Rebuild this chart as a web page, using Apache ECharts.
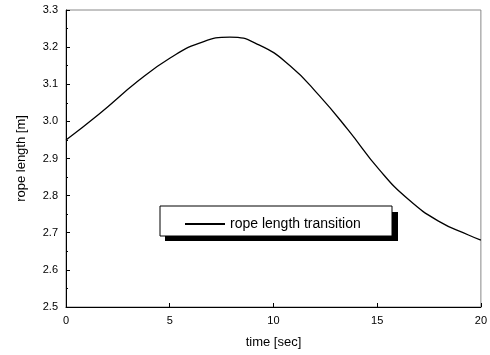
<!DOCTYPE html>
<html><head><meta charset="utf-8">
<script src="https://cdn.jsdelivr.net/npm/echarts@6/dist/echarts.min.js"></script>
<style>html,body{margin:0;padding:0;background:#fff}#c{width:490px;height:355px}</style>
</head><body><div id="c"></div>
<script>
const timeValues = [0, 1.6, 3.5, 5, 6.4, 7.9, 9.3, 10.8, 12.2, 13.6, 15.1, 16.5, 18, 19.4, 20];
const ropeLength = [2.95, 3.02, 3.11, 3.17, 3.21, 3.227, 3.206, 3.15, 3.07, 2.977, 2.87, 2.79, 2.73, 2.694, 2.68];
const xTicks = [0, 5, 10, 15, 20];
const yTicks = [2.5, 2.6, 2.7, 2.8, 2.9, 3.0, 3.1, 3.2, 3.3];
const seriesName = 'rope length transition';

const chart = echarts.init(document.getElementById('c'));
const font = 'Liberation Sans';
chart.setOption({
  animation: false,
  grid: {left: 66, right: 8, top: 10, bottom: 48, show: true, borderColor: '#888', borderWidth: 1},
  graphic: [
    {type: 'rect', z: 100, shape: {x: 165, y: 212, width: 233, height: 29}, style: {fill: '#000'}},
    {type: 'rect', z: 101, shape: {x: 160, y: 206, width: 232, height: 30}, style: {fill: '#fff', stroke: '#000', lineWidth: 1}}
  ],
  legend: {
    data: [seriesName], left: 180, top: 212, z: 110,
    itemWidth: 40, itemHeight: 2, itemGap: 0, icon: 'rect',
    textStyle: {fontFamily: font, fontSize: 14, color: '#000'}
  },
  xAxis: {
    type: 'value', min: 0, max: 20, interval: 5,
    name: 'time [sec]', nameLocation: 'middle', nameGap: 29,
    nameTextStyle: {fontFamily: font, fontSize: 13, color: '#000'},
    axisLine: {lineStyle: {color: '#000'}},
    axisTick: {inside: true, length: 4, lineStyle: {color: '#000'}},
    axisLabel: {fontFamily: font, fontSize: 11, color: '#000', formatter: v => xTicks.includes(v) ? String(v) : ''},
    splitLine: {show: false}
  },
  yAxis: {
    type: 'value', min: 2.5, max: 3.3, interval: 0.1,
    name: 'rope length [m]', nameLocation: 'middle', nameGap: 38,
    nameTextStyle: {fontFamily: font, fontSize: 13, color: '#000'},
    axisLine: {show: true, lineStyle: {color: '#000'}},
    axisTick: {show: true, inside: true, length: 4, lineStyle: {color: '#000'}},
    minorTick: {show: true, splitNumber: 2, length: 2, lineStyle: {color: '#000'}},
    axisLabel: {fontFamily: font, fontSize: 11, color: '#000', formatter: v => {
      const r = Math.round(v * 10) / 10; return yTicks.some(t => Math.abs(t - r) < 1e-6) ? r.toFixed(1) : ''; }},
    splitLine: {show: false}
  },
  series: [{
    name: seriesName, type: 'line', smooth: true, symbol: 'none',
    data: timeValues.map((t, i) => [t, ropeLength[i]]),
    lineStyle: {color: '#000', width: 1.3}, itemStyle: {color: '#000'}
  }]
});
</script></body></html>
